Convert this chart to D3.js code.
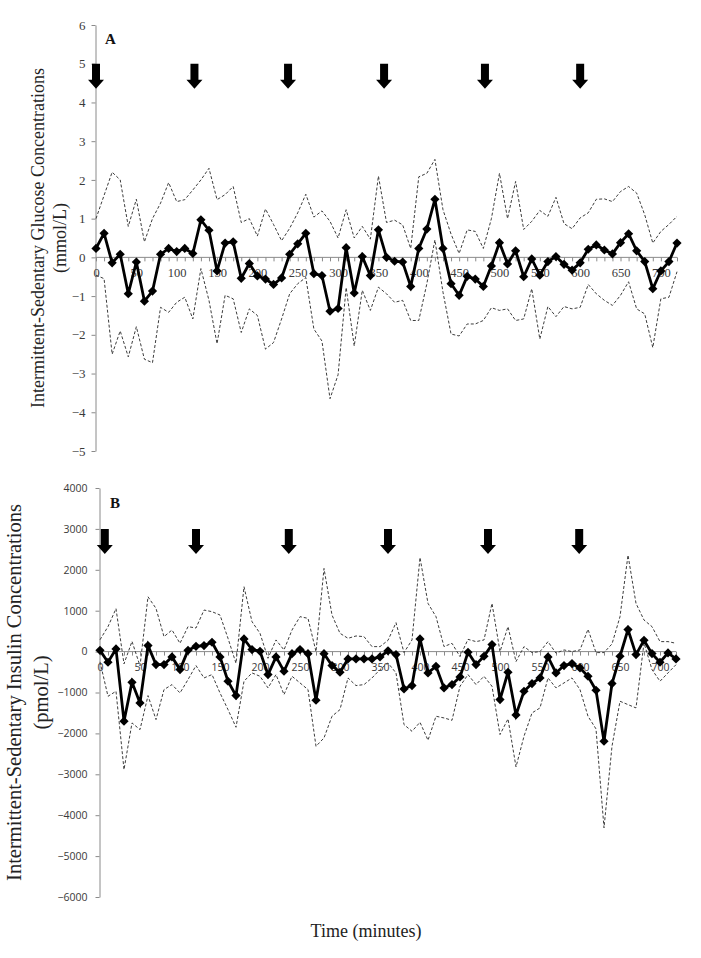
<!DOCTYPE html>
<html><head><meta charset="utf-8">
<script src="https://cdn.jsdelivr.net/npm/d3@7/dist/d3.min.js"></script>
<style>body{margin:0;background:#fff}svg{display:block}</style>
</head><body>
<svg id="chart" width="701" height="958"></svg>
<script>
// ---------- data ----------
const minutes = [0,10,20,30,40,50,60,70,80,90,100,110,120,130,140,150,160,170,180,190,200,210,220,230,240,250,260,270,280,290,300,310,320,330,340,350,360,370,380,390,400,410,420,430,440,450,460,470,480,490,500,510,520,530,540,550,560,570,580,590,600,610,620,630,640,650,660,670,680,690,700,710,720];
const xTickLabels = [0,50,100,150,200,250,300,350,400,450,500,550,600,650,700];
const glucoseTicks = [-5,-4,-3,-2,-1,0,1,2,3,4,5,6];
const insulinTicks = [-6000,-5000,-4000,-3000,-2000,-1000,0,1000,2000,3000,4000];

const glucoseMean = [0.23,0.62,-0.14,0.08,-0.94,-0.12,-1.13,-0.87,0.08,0.23,
  0.15,0.23,0.10,0.97,0.70,-0.35,0.37,0.40,-0.54,-0.16,
  -0.48,-0.56,-0.70,-0.53,0.08,0.35,0.62,-0.42,-0.47,-1.39,
  -1.32,0.25,-0.92,0.02,-0.47,0.71,0.00,-0.10,-0.12,-0.75,
  0.23,0.73,1.50,0.23,-0.68,-0.98,-0.49,-0.56,-0.75,-0.22,
  0.38,-0.17,0.17,-0.50,-0.04,-0.46,-0.11,0.02,-0.18,-0.33,
  -0.14,0.21,0.32,0.19,0.09,0.38,0.61,0.17,-0.11,-0.81,
  -0.35,-0.11,0.37];
const glucoseUpper = [1.0,1.6,2.2,2.0,0.8,1.5,0.4,1.0,1.4,1.93,
  1.44,1.49,1.74,2.0,2.3,1.49,1.62,1.83,0.9,1.0,
  0.55,1.25,0.85,0.43,0.75,1.15,1.63,1.04,1.2,0.93,
  0.5,1.23,0.5,0.8,0.47,2.1,0.9,0.96,0.84,0.23,
  2.08,2.17,2.53,1.23,0.6,0.1,0.71,0.67,0.23,1.0,
  2.17,1.0,1.96,0.72,0.93,1.21,1.06,1.55,0.87,0.74,
  1.02,1.15,1.5,1.51,1.44,1.7,1.83,1.66,1.1,0.37,
  0.67,0.85,1.06];
const glucoseLower = [-0.46,-0.55,-2.5,-1.9,-2.57,-1.79,-2.63,-2.72,-1.29,-1.42,
  -1.16,-1.03,-1.59,-0.29,-1.11,-2.23,-0.98,-1.07,-1.94,-1.33,
  -1.5,-2.37,-2.2,-1.59,-0.94,-0.68,-0.52,-1.85,-2.16,-3.65,
  -3.03,-0.78,-2.29,-0.85,-1.37,-0.77,-0.94,-1.16,-1.11,-1.63,
  -1.63,-0.68,0.45,-0.9,-1.98,-2.03,-1.72,-1.72,-1.63,-1.3,
  -1.37,-1.33,-1.63,-1.59,-0.81,-2.11,-1.27,-1.53,-1.27,-1.33,
  -1.29,-0.7,-0.94,-1.11,-1.24,-0.98,-0.63,-1.33,-1.46,-2.33,
  -1.07,-1.03,-0.37];

const insulinMean = [30,-260,65,-1700,-750,-1255,147,-318,-318,-130,
  -440,30,130,147,228,-130,-725,-1076,310,50,
  8,-562,-130,-480,-50,50,-50,-1190,-50,-342,
  -505,-180,-180,-180,-180,-130,20,-73,-913,-831,
  310,-521,-359,-888,-807,-619,-16,-318,-114,171,
  -1174,-505,-1548,-970,-782,-644,-130,-521,-342,-293,
  -399,-603,-945,-2192,-782,-114,538,-73,277,-49,
  -261,-33,-179];
const insulinUpper = [290,610,1050,-300,250,-350,1340,1057,366,528,
  203,610,577,1016,976,894,325,-285,1585,732,
  447,-163,285,41,528,854,813,0,2033,894,
  447,325,382,366,122,122,275,707,-24,285,
  2300,1179,854,122,203,-122,300,244,285,1179,
  0,610,-244,122,-24,0,244,-40,41,0,
  41,545,-24,-24,187,854,2358,1179,772,610,
  244,244,203];
const insulinLower = [-250,-1092,-970,-2885,-1744,-1907,-1076,-1663,-929,-807,
  -1011,-685,-342,-644,-562,-1011,-1418,-1850,-725,-521,
  -603,-888,-562,-1051,-603,-766,-929,-2315,-2111,-1581,
  -1418,-644,-831,-807,-644,-440,-277,-522,-1785,-1948,
  -1728,-2168,-1581,-1622,-1679,-848,-562,-807,-603,-848,
  -2029,-1646,-2820,-2070,-1500,-1377,-644,-888,-766,-644,
  -929,-1581,-1890,-4310,-2315,-1214,-1296,-1377,212,-440,
  -725,-521,-320];

// times of the meal arrows (minutes) and the value where each arrow starts
const glucoseArrows = [0,122,238,357,482,600];
const insulinArrows = [6,120,236,360,485,599];
const glucoseArrowTop = 5;
const insulinArrowTop = 3000;

// ---------- drawing ----------
const svg = d3.select("#chart");
const AXIS = "#8a8a8a", TXT = "#3a3a3a";
const serif = "'Liberation Serif','Times New Roman',serif";
const sans = "'Open Sans','Liberation Sans',sans-serif";

function panel(cfg) {
  const g = svg.append("g");
  const x = d3.scaleLinear().domain([0, 720]).range(cfg.xr);
  const y = d3.scaleLinear().domain(cfg.yd).range(cfg.yr);

  // y axis
  const ya = g.append("g").attr("transform", `translate(${cfg.axisX},0)`)
    .call(d3.axisLeft(y).tickValues(cfg.yTicks).tickSize(4).tickPadding(cfg.yPad).tickSizeOuter(0)
      .tickFormat(d3.format("d")));
  ya.select(".domain").attr("stroke", AXIS);
  ya.selectAll(".tick line").attr("stroke", AXIS);
  ya.selectAll("text").attr("fill", TXT).style("font-family", cfg.tickFont).style("font-size", cfg.yTickSize + "px");

  // x axis at zero
  const xa = g.append("g").attr("transform", `translate(0,${y(0)})`)
    .call(d3.axisBottom(x).tickValues(minutes).tickSize(4).tickPadding(cfg.xPad).tickSizeOuter(0)
      .tickFormat(d => xTickLabels.includes(d) ? d : ""));
  xa.select(".domain").attr("stroke", AXIS).attr("d", `M${cfg.axisX},0H${x(720)}`);
  xa.selectAll(".tick line").attr("stroke", AXIS);
  xa.selectAll("text").attr("fill", TXT).style("font-family", cfg.tickFont).style("font-size", cfg.xTickSize + "px");

  // dashed bounds
  const line = arr => d3.line().x((d, i) => x(minutes[i])).y(d => y(d))(arr);
  [cfg.upper, cfg.lower].forEach(arr => {
    g.append("path").attr("d", line(arr)).attr("fill", "none")
      .attr("stroke", "#3c3c3c").attr("stroke-width", 1).attr("stroke-dasharray", "3,2");
  });

  // mean line
  g.append("path").attr("d", line(cfg.mean)).attr("fill", "none")
    .attr("stroke", "#000").attr("stroke-width", 2.8).attr("stroke-linejoin", "miter");
  const r = 4.6;
  g.selectAll("path.dia").data(cfg.mean).enter().append("path").attr("class", "dia")
    .attr("d", `M0,${-r}L${r},0L0,${r}L${-r},0Z`)
    .attr("transform", (d, i) => `translate(${x(minutes[i])},${y(d)})`)
    .attr("fill", "#000");

  // arrows
  cfg.arrows.forEach(t => {
    const cx = x(t), top = y(cfg.arrowTop);
    const sw = 4, hw = 8, sh = 16, hh = 9;
    g.append("path").attr("fill", "#000")
      .attr("d", `M${cx - sw},${top}H${cx + sw}V${top + sh}H${cx + hw}L${cx},${top + sh + hh}L${cx - hw},${top + sh}H${cx - sw}Z`);
  });

  // panel letter
  g.append("text").attr("x", cfg.letterX).attr("y", cfg.letterY).text(cfg.letter)
    .style("font-family", serif).style("font-weight", "bold").style("font-size", "15px").attr("fill", "#111");

  // y title
  const cy = (cfg.yr[0] + cfg.yr[1]) / 2;
  cfg.title.forEach((t, i) => {
    g.append("text").attr("transform", `translate(${cfg.titleX[i]},${cy}) rotate(-90)`)
      .attr("text-anchor", "middle").text(t)
      .style("font-family", serif).style("font-size", cfg.titleSize + "px").attr("fill", "#222");
  });
}

panel({
  xr: [96, 677], yd: [-5, 6], yr: [451, 25], axisX: 95.5,
  yTicks: glucoseTicks, yPad: 6, xPad: 7, tickFont: serif, yTickSize: 13, xTickSize: 12.5,
  mean: glucoseMean, upper: glucoseUpper, lower: glucoseLower,
  arrows: glucoseArrows, arrowTop: glucoseArrowTop,
  letter: "A", letterX: 105, letterY: 44,
  title: ["Intermittent-Sedentary Glucose Concentrations", "(mmol/L)"], titleX: [44, 66], titleSize: 18
});

panel({
  xr: [100, 676], yd: [-6000, 4000], yr: [897, 488], axisX: 99.5,
  yTicks: insulinTicks, yPad: 8, xPad: 8, tickFont: sans, yTickSize: 10.5, xTickSize: 10.5,
  mean: insulinMean, upper: insulinUpper, lower: insulinLower,
  arrows: insulinArrows, arrowTop: insulinArrowTop,
  letter: "B", letterX: 110, letterY: 508,
  title: ["Intermittent-Sedentary Insulin Concentrations", "(pmol/L)"], titleX: [21, 48], titleSize: 20.5
});

svg.append("text").attr("x", 366).attr("y", 937).attr("text-anchor", "middle")
  .text("Time (minutes)").style("font-family", serif).style("font-size", "18px").attr("fill", "#222");
</script>
</body></html>
